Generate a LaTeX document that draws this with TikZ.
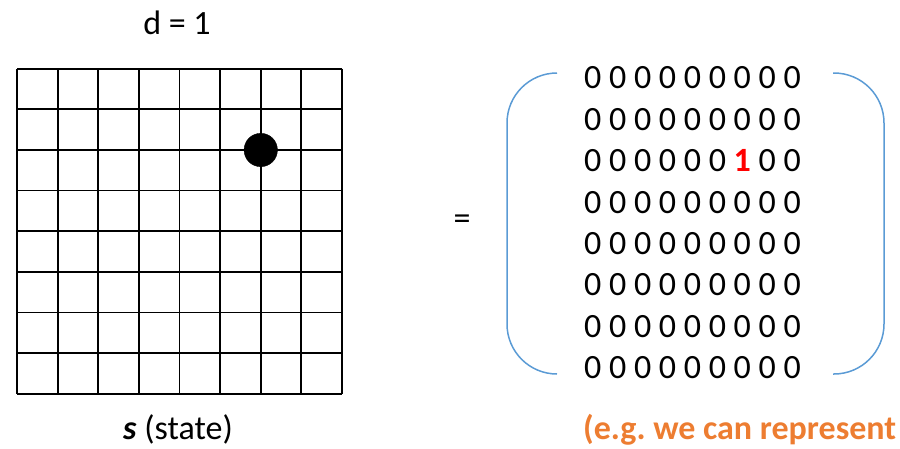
\documentclass[tikz,border=0pt]{standalone}
\usepackage{fontspec}
\setmainfont{Carlito}
\definecolor{bracketblue}{RGB}{91,155,213}
\definecolor{noteorange}{RGB}{237,125,49}
\frenchspacing
\begin{document}
\begin{tikzpicture}[x=1pt,y=-1pt,
    txt/.style={font=\fontsize{34}{40}\selectfont},
    digits/.style={font=\fontsize{34}{40}\selectfont},
    bracket/.style={draw=bracketblue,line width=1.5pt,rounded corners=50}]
    \useasboundingbox (0,0) rectangle (900,448);
    % Grid
    \foreach \i in {0,...,8} {
            \draw[line width=1.8pt] (17+40.625*\i,68.7) -- (17+40.625*\i,393.7);
            \draw[line width=1.8pt] (17,68.7+40.625*\i) -- (342,68.7+40.625*\i);
        }
    \filldraw[black] (260.75,150) circle (16.7pt);
    \node[txt,anchor=base] (dlabel) at (177,34) {d = 1};
    \node[txt,anchor=base,inner sep=0pt] (slabel) at (178,439) {\textbf{\textit{s}} (state)};
    % Equals
    \node[txt] (equals) at (462,222) {=};
    % Matrix
    \foreach \r in {0,1,3,4,5,6,7} {
            \node[digits] (row\r) at (692.5,78+41.4*\r) {0 0 0 0 0 0 0 0 0};
        }
    \node[digits] (row2) at (692.5,78+41.4*2) {0 0 0 0 0 0 \textcolor{red}{\textbf{1}} 0 0};
    \draw[bracket] (557,73) -- (507,73) -- (507,374) -- (557,374);
    \draw[bracket] (833,73) -- (884,73) -- (884,374) -- (833,374);
    \node[txt,anchor=base west,text=noteorange,inner sep=0pt] (note) at (583,439) {\textbf{(e.g. we can represent}};
\end{tikzpicture}
\end{document}
